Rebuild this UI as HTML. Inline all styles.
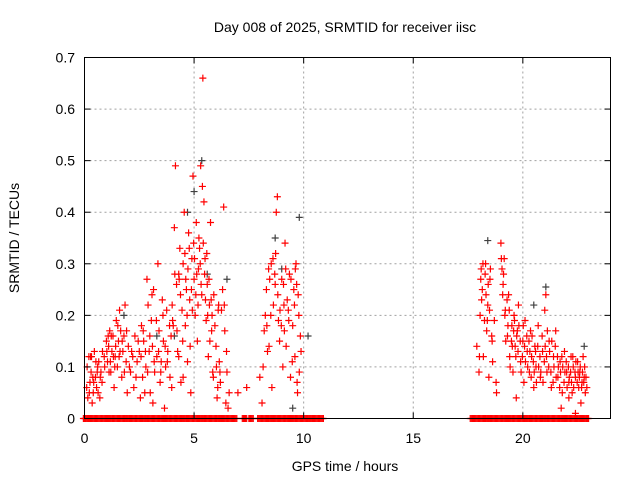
<!DOCTYPE html>
<html><head><meta charset="utf-8"><style>
body{margin:0;background:#fff}
svg{font-family:"Liberation Sans",sans-serif;font-size:14px}
</style></head><body>
<svg id="chart" width="640" height="480" viewBox="0 0 640 480" xmlns="http://www.w3.org/2000/svg">
<text x="345" y="32" text-anchor="middle">Day 008 of 2025, SRMTID for receiver iisc</text>
<text x="345" y="471" text-anchor="middle">GPS time / hours</text>
<text transform="translate(19,238) rotate(-90)" text-anchor="middle">SRMTID / TECUs</text>
<g id="grid"></g><g id="marks"></g>
<rect x="84.5" y="57.5" width="526" height="361" fill="none" stroke="#000"/>
<g id="axes"></g>
</svg>
<script>
const xTicks=[0,5,10,15,20];
const yTicks=[0,0.1,0.2,0.3,0.4,0.5,0.6,0.7];
const redT=[0.1,0.15,0.2,0.25,0.3,0.35,0.4,0.45,0.5,0.55,0.6,0.65,0.7,0.75,0.8,0.9,1.0,1.05,1.1,1.15,1.2,1.25,1.3,1.35,1.4,1.45,1.5,1.55,1.6,1.65,1.7,1.75,1.8,1.85,1.9,1.95,
2.0,2.1,2.2,2.25,2.3,2.4,2.5,2.55,2.6,2.65,2.7,2.8,2.85,2.9,2.95,3.0,3.05,3.1,3.15,3.2,3.3,3.35,3.4,3.45,3.5,3.6,3.65,3.7,3.75,3.8,3.9,3.95,
4.0,4.05,4.1,4.15,4.2,4.25,4.3,4.35,4.4,4.45,4.5,4.55,4.6,4.65,4.7,4.75,4.8,4.85,4.9,4.95,5.0,5.05,5.1,5.15,5.2,5.25,5.3,5.35,5.4,5.45,5.5,5.55,5.6,5.65,5.7,5.75,5.8,5.85,5.9,6.0,6.05,6.1,6.15,6.2,6.3,6.35,6.4,6.45,6.5,6.6,7.0,7.4,
8.0,8.1,8.2,8.3,8.35,8.4,8.5,8.55,8.6,8.7,8.75,8.8,8.85,8.9,9.0,9.05,9.1,9.15,9.2,9.3,9.35,9.4,9.5,9.55,9.6,9.65,9.7,9.75,9.8,9.85,
17.9,18.0,18.05,18.1,18.15,18.2,18.3,18.35,18.4,18.45,18.5,18.6,18.7,18.8,19.0,19.05,19.1,19.15,19.2,19.3,19.35,19.4,19.5,19.55,19.6,19.65,19.7,19.75,19.8,19.9,20.0,20.05,20.1,20.2,20.3,20.35,20.4,20.5,20.55,20.6,20.7,20.8,20.9,21.0,21.05,21.1,21.2,21.3,21.4,21.5,21.6,21.7,21.8,21.9,22.0,22.1,22.2,22.25,22.3,22.4,22.5,22.55,22.6,22.7,22.75,22.8,22.85,22.65];
const redV=[.06,.04,.12,.07,.09,.03,.05,.13,.08,.06,.10,.11,.04,.09,.07,.12,.15,.11,.14,.17,.09,.13,.16,.06,.12,.19,.10,.15,.21,.17,.08,.13,.16,.22,.11,.05,
.14,.09,.12,.06,.16,.11,.13,.04,.18,.08,.15,.10,.27,.22,.13,.05,.19,.14,.25,.09,.12,.30,.17,.07,.11,.15,.02,.10,.21,.13,.08,.16,
.22,.18,.37,.49,.26,.13,.28,.33,.07,.21,.30,.40,.18,.25,.11,.36,.23,.05,.31,.47,.27,.20,.38,.15,.29,.33,.49,.24,.66,.42,.31,.19,.26,.12,.22,.38,.17,.09,.24,.14,.04,.21,.11,.07,.25,.41,.17,.03,.09,.05,.05,.06,
.08,.03,.17,.25,.13,.29,.20,.06,.31,.26,.40,.43,.19,.15,.27,.10,.22,.34,.14,.21,.28,.08,.18,.25,.12,.30,.07,.24,.09,.16,
.14,.09,.20,.29,.25,.12,.30,.17,.22,.08,.27,.15,.19,.05,.34,.29,.26,.31,.21,.16,.24,.12,.18,.09,.20,.14,.04,.17,.22,.11,.15,.07,.19,.13,.09,.17,.12,.06,.14,.10,.18,.08,.13,.21,.24,.09,.15,.06,.12,.17,.08,.11,.05,.13,.09,.07,.12,.05,.10,.08,.11,.06,.09,.07,.12,.08,.05,.03];
const redT2=[0.12,0.22,0.32,0.42,0.52,0.62,0.72,0.82,0.92,1.02,1.12,1.22,1.32,1.42,1.52,1.62,1.72,1.82,1.92,0.28,0.38,0.58,1.08,1.18,1.38,1.58,
2.05,2.15,2.35,2.45,2.58,2.68,2.78,2.88,2.98,3.08,3.18,3.28,3.38,3.48,3.58,3.68,3.78,3.88,3.98,2.75,3.12,3.55,
4.02,4.12,4.22,4.32,4.38,4.48,4.58,4.62,4.68,4.72,4.78,4.82,4.88,4.92,4.98,5.02,5.08,5.12,5.18,5.22,5.28,5.32,5.38,5.42,5.48,5.52,5.58,5.62,5.68,5.72,5.78,5.82,5.88,5.95,6.02,6.08,6.12,6.18,6.25,6.38,6.48,6.55,4.3,4.5,
8.15,8.25,8.32,8.45,8.52,8.62,8.68,8.72,8.82,8.92,8.98,9.08,9.12,9.18,9.25,9.32,9.42,9.48,9.58,9.62,9.68,9.78,9.88,9.72,8.42,
18.02,18.08,18.12,18.18,18.25,18.28,18.32,18.38,18.42,18.48,18.52,18.58,18.62,18.78,19.02,19.08,19.12,19.18,19.22,19.28,19.32,19.38,19.42,19.48,19.52,19.58,19.62,19.68,19.72,19.78,19.82,19.88,19.92,19.98,20.02,20.08,20.12,20.18,20.22,20.28,20.32,20.38,20.42,20.48,20.52,20.58,20.62,20.68,20.72,20.78,20.82,20.88,20.92,20.98,21.02,21.08,21.12,21.18,21.22,21.28,21.32,21.38,21.42,21.48,21.52,21.58,21.62,21.68,21.72,21.78,21.82,21.88,21.92,21.98,22.02,22.08,22.12,22.18,22.22,22.28,22.32,22.38,22.42,22.48,22.52,22.58,22.62,22.68,22.72,22.78,22.82,22.88,22.92,22.1,21.75,22.4];
const redV2=[.10,.05,.12,.07,.11,.05,.08,.13,.10,.13,.09,.16,.12,.14,.18,.13,.15,.09,.17,.12,.08,.09,.16,.11,.10,.12,
.10,.13,.08,.15,.12,.17,.13,.09,.16,.24,.11,.19,.13,.09,.20,.14,.11,.18,.06,.05,.03,.23,
.19,.28,.17,.27,.24,.15,.32,.27,.20,.29,.33,.14,.25,.21,.34,.31,.24,.28,.22,.35,.30,.26,.45,.34,.28,.23,.32,.20,.27,.15,.23,.20,.08,.18,.10,.06,.22,.09,.21,.22,.13,.02,.12,.08,
.10,.20,.18,.27,.30,.22,.28,.32,.24,.21,.18,.26,.17,.29,.23,.19,.27,.11,.22,.29,.26,.20,.13,.05,.14,
.12,.27,.23,.30,.19,.28,.24,.19,.26,.21,.29,.16,.11,.07,.31,.24,.28,.20,.15,.23,.18,.21,.10,.15,.14,.17,.19,.12,.16,.13,.18,.15,.09,.12,.18,.14,.11,.16,.10,.15,.13,.08,.16,.11,.09,.13,.07,.14,.10,.12,.09,.16,.07,.11,.14,.12,.17,.10,.13,.09,.15,.07,.10,.14,.08,.12,.10,.06,.09,.12,.10,.07,.09,.11,.06,.10,.08,.09,.07,.12,.06,.09,.11,.07,.09,.08,.10,.06,.09,.07,.10,.08,.06,.04,.02,.01];
const blackT=[5.35,5.0,4.7,9.8,8.7,18.4,21.05,22.8,5.6,6.5,9.0,4.1,3.3,1.8,20.5,9.5,10.2];
const blackV=[.50,.44,.40,.39,.35,.345,.255,.14,.28,.27,.29,.16,.16,.20,.22,.02,.16];
const zeroT=[0.05,0.25,0.45,0.65,0.85,1.05,1.25,1.45,1.65,1.85,2.05,2.25,2.45,2.65,2.85,3.05,3.25,3.45,3.65,3.85,4.05,4.25,4.45,4.65,4.85,5.05,5.25,5.45,5.65,5.85,6.05,6.25,6.45,6.65,6.85,7.3,7.6,
8.0,8.2,8.4,8.6,8.8,9.0,9.2,9.4,9.6,9.8,10.0,10.2,10.4,10.6,10.8,
17.7,17.9,18.1,18.3,18.5,18.7,18.9,19.1,19.3,19.5,19.7,19.9,20.1,20.3,20.5,20.7,20.9,21.1,21.3,21.5,21.7,21.9,22.1,22.3,22.5,22.7,22.9];
const X0=84.5,X1=610.5,Y0=418.5,Y1=57.5;
const sx=t=>X0+(X1-X0)*t/24, sy=v=>Y0-(Y0-Y1)*v/0.7;
const NS="http://www.w3.org/2000/svg";
const grid=document.getElementById('grid'),axes=document.getElementById('axes'),marks=document.getElementById('marks');
function mk(tag,attrs,parent){const e=document.createElementNS(NS,tag);for(const k in attrs)e.setAttribute(k,attrs[k]);parent.appendChild(e);return e;}
xTicks.forEach(t=>{const x=sx(t);
 if(t>0){const g=mk('line',{x1:x,x2:x,y1:Y0,y2:Y1,stroke:'#a0a0a0','stroke-dasharray':'2,3'},grid);
 
 }
 const l=mk('text',{x:x,y:443,'text-anchor':'middle'},axes);l.textContent=t;
 
 
 mk('line',{x1:x,x2:x,y1:Y0,y2:Y0-6,stroke:'#000'},axes);mk('line',{x1:x,x2:x,y1:Y1,y2:Y1+6,stroke:'#000'},axes);});
yTicks.forEach(v=>{const y=sy(v);
 if(v>0&&v<0.7){const g=mk('line',{x1:X0,x2:X1,y1:y,y2:y,stroke:'#a0a0a0','stroke-dasharray':'2,3'},grid);
 
 }
 const l=mk('text',{x:75,y:y+5,'text-anchor':'end'},axes);l.textContent=v===0?'0':v.toFixed(1);
 
 
 mk('line',{x1:X0,x2:X0+6,y1:y,y2:y,stroke:'#000'},axes);mk('line',{x1:X1,x2:X1-6,y1:y,y2:y,stroke:'#000'},axes);});
function plus(t,v,col,name){const x=sx(t),y=sy(v);
 const p=mk('path',{d:`M${x-3.5},${y}h7M${x},${y-3.5}v7`,stroke:col,'stroke-width':1.2,fill:'none'},marks);
 
 }
blackT.forEach((t,i)=>plus(t,blackV[i],'#404040','black-point'));
redT.forEach((t,i)=>plus(t,redV[i],'#ff0000','red-point'));
redT2.forEach((t,i)=>plus(t,redV2[i],'#ff0000','red-point'));
zeroT.forEach(t=>{[-0.1,-0.05,0,0.05,0.1].forEach(d=>plus(t+d,0,'#ff0000','zero-point'));});
</script>
</body></html>
